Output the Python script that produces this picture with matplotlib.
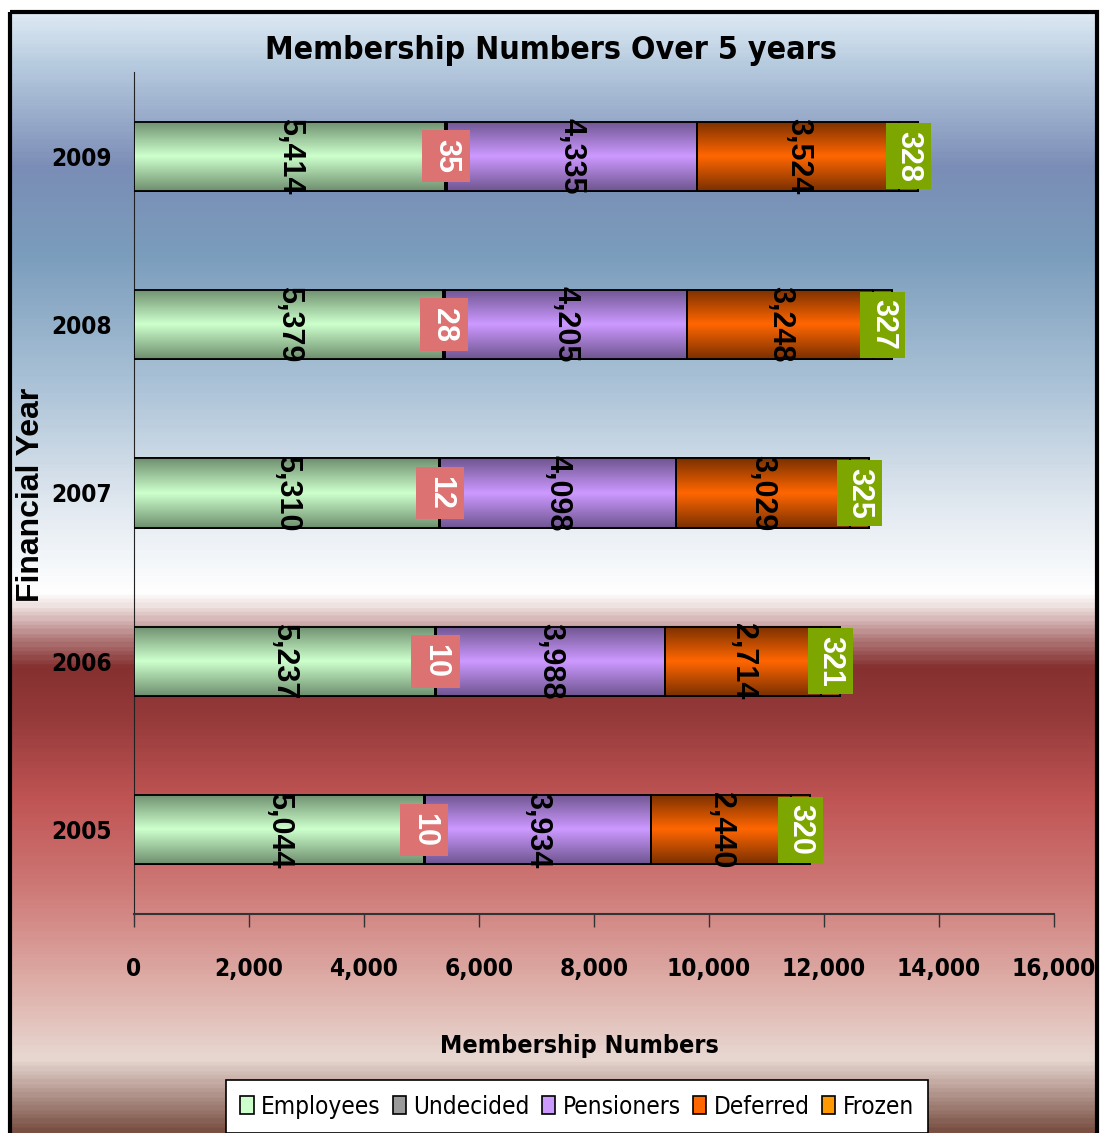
import matplotlib
matplotlib.use('Agg')
import matplotlib.pyplot as plt
import numpy as np
from matplotlib import font_manager
from matplotlib.colors import LinearSegmentedColormap
from matplotlib.patches import Rectangle
from matplotlib.ticker import StrMethodFormatter

years = ['2005', '2006', '2007', '2008', '2009']
employees = [5044, 5237, 5310, 5379, 5414]
undecided = [10, 10, 12, 28, 35]
pensioners = [3934, 3988, 4098, 4205, 4335]
deferred = [2440, 2714, 3029, 3248, 3524]
frozen = [320, 321, 325, 327, 328]

series = [
    ('Employees', employees, '#ccffcc', '#6f8f6f'),
    ('Undecided', undecided, '#9a9a9a', '#4a4a4a'),
    ('Pensioners', pensioners, '#cc99ff', '#6f5590'),
    ('Deferred', deferred, '#ff6600', '#7a3000'),
    ('Frozen', frozen, '#ff9900', '#8a5200'),
]


def pick_font(cands):
    # first (family, stretch) that really resolves to a matching file
    for fam, stretch, key in cands:
        try:
            path = font_manager.findfont(font_manager.FontProperties(family=fam, stretch=stretch, weight='bold'),
                                         fallback_to_default=False)
        except Exception:
            continue
        if key.lower() in path.lower().replace(' ', ''):
            return fam, stretch
    return 'DejaVu Sans', 'normal'


NARROW, NSTRETCH = pick_font([('Liberation Sans Narrow', 'condensed', 'Narrow'),
                              ('Liberation Sans Narrow', 'normal', 'Narrow'),
                              ('DejaVu Sans', 'condensed', 'Condensed'),
                              ('Roboto Condensed', 'normal', 'Condensed'),
                              ('Liberation Sans', 'normal', 'Liberation'),
                              ('Roboto', 'normal', 'Roboto')])
WIDE, _ = pick_font([('Liberation Sans', 'normal', 'Liberation'), ('Arimo', 'normal', 'Arimo')])


def nfont(size, weight='bold'):
    return font_manager.FontProperties(family=NARROW, stretch=NSTRETCH, size=size, weight=weight)


W, H = 1100, 1133
fig = plt.figure(figsize=(W / 100, H / 100), dpi=100)

# background: gradient panel with a black frame
bg = fig.add_axes([0, 0, 1, 1])
bg.axis('off')
stops = [(12, '#dde9f3'), (60, '#b8cce0'), (165, '#7b8db6'), (250, '#7a9cbc'),
         (380, '#a9c1d6'), (500, '#dfe7ef'), (592, '#ffffff'), (606, '#efe2e0'),
         (640, '#b07878'), (668, '#853030'), (720, '#963a3a'), (800, '#c05454'),
         (880, '#cc7472'), (990, '#dfb0aa'), (1062, '#e8d8d2'), (1133, '#7a5044')]
pos = [(p - 12) / (1133 - 12) for p, _ in stops]
bg_cmap = LinearSegmentedColormap.from_list('bg', list(zip(pos, [c for _, c in stops])))
bg.imshow(np.linspace(0, 1, 600).reshape(-1, 1), cmap=bg_cmap, aspect='auto',
          extent=(10, 1097, 1133, 12), origin='upper', zorder=0)
bg.add_patch(Rectangle((10, 12), 1087, 1130, fill=False, edgecolor='black', lw=3, zorder=1))
bg.set_xlim(0, W)
bg.set_ylim(H, 0)

ax = fig.add_axes([134 / W, 1 - 914 / H, 920 / W, 842 / H])
ax.patch.set_alpha(0)

y = np.arange(len(years))
bar_h = 0.41
left = np.zeros(len(years))
grad = np.concatenate([np.linspace(0, 1, 50), np.linspace(1, 0, 50)]).reshape(-1, 1)

for name, vals, center, edge in series:
    bars = ax.barh(y, vals, left=left, height=bar_h, color=center, edgecolor='black',
                   linewidth=1.3, label=name, zorder=3)
    cmap = LinearSegmentedColormap.from_list(name, [edge, center])
    for r in bars:
        x0, y0, w, h = r.get_x(), r.get_y(), r.get_width(), r.get_height()
        ax.imshow(grad, cmap=cmap, aspect='auto', extent=(x0, x0 + w, y0, y0 + h),
                  zorder=3.5, interpolation='bilinear')
        ax.add_patch(Rectangle((x0, y0), w, h, fill=False, edgecolor='black', lw=1.3, zorder=4))
    for i, v in enumerate(vals):
        cx = left[i] + v / 2
        kw = dict(rotation=-90, ha='center', va='center', fontsize=22, fontweight='bold',
                  family=WIDE, zorder=6)
        if name == 'Undecided':
            ax.text(cx, y[i], f'{v:,}', color='white',
                    bbox=dict(boxstyle='square,pad=0.3', facecolor='#dc7272', edgecolor='none'), **kw)
        elif name == 'Frozen':
            ax.text(cx, y[i], f'{v:,}', color='white',
                    bbox=dict(boxstyle='square,pad=0.25', facecolor='#7ea600', edgecolor='none'), **kw)
        else:
            ax.text(cx, y[i], f'{v:,}', color='black', **kw)
    left = left + np.array(vals)

ax.set_xlim(0, 16000)
ax.set_ylim(-0.5, 4.5)
ax.set_xticks(range(0, 16001, 2000))
ax.xaxis.set_major_formatter(StrMethodFormatter('{x:,.0f}'))
ax.set_yticks(y)
ax.set_yticklabels(years)
ax.tick_params(axis='x', length=9, width=1, color='#333333', pad=22)
ax.tick_params(axis='y', length=0, pad=16)
for lab in ax.get_xticklabels() + ax.get_yticklabels():
    lab.set_fontproperties(nfont(17.5))
for s in ['top', 'right']:
    ax.spines[s].set_visible(False)
ax.spines['left'].set_color('#222222')
ax.spines['bottom'].set_color('#333333')
ax.spines['bottom'].set_linewidth(1.5)

fig.text(551 / W, 1 - 50 / H, 'Membership Numbers Over 5 years', ha='center', va='center',
         fontproperties=nfont(23))
fig.text(579 / W, 1 - 1046 / H, 'Membership Numbers', ha='center', va='center',
         fontproperties=nfont(18))
fig.text(31 / W, 1 - 495 / H, 'Financial Year', ha='center', va='center', rotation=90,
         fontsize=23, fontweight='bold', family=WIDE)

handles = [Rectangle((0, 0), 1, 1, facecolor=c, edgecolor='black', lw=1.2)
           for _, _, c, _ in series]
leg = fig.legend(handles, [s[0] for s in series], loc='upper center',
                 bbox_to_anchor=(577 / W, 1 - 1080 / H), ncol=5, frameon=True, fancybox=False,
                 edgecolor='black', facecolor='white', framealpha=1,
                 prop=nfont(17.5, 'normal'),
                 handlelength=0.55, handleheight=0.75,
                 handletextpad=0.3, columnspacing=0.5, borderpad=0.6, borderaxespad=0)
leg.get_frame().set_linewidth(1.2)

fig.savefig('out.png', dpi=100)
